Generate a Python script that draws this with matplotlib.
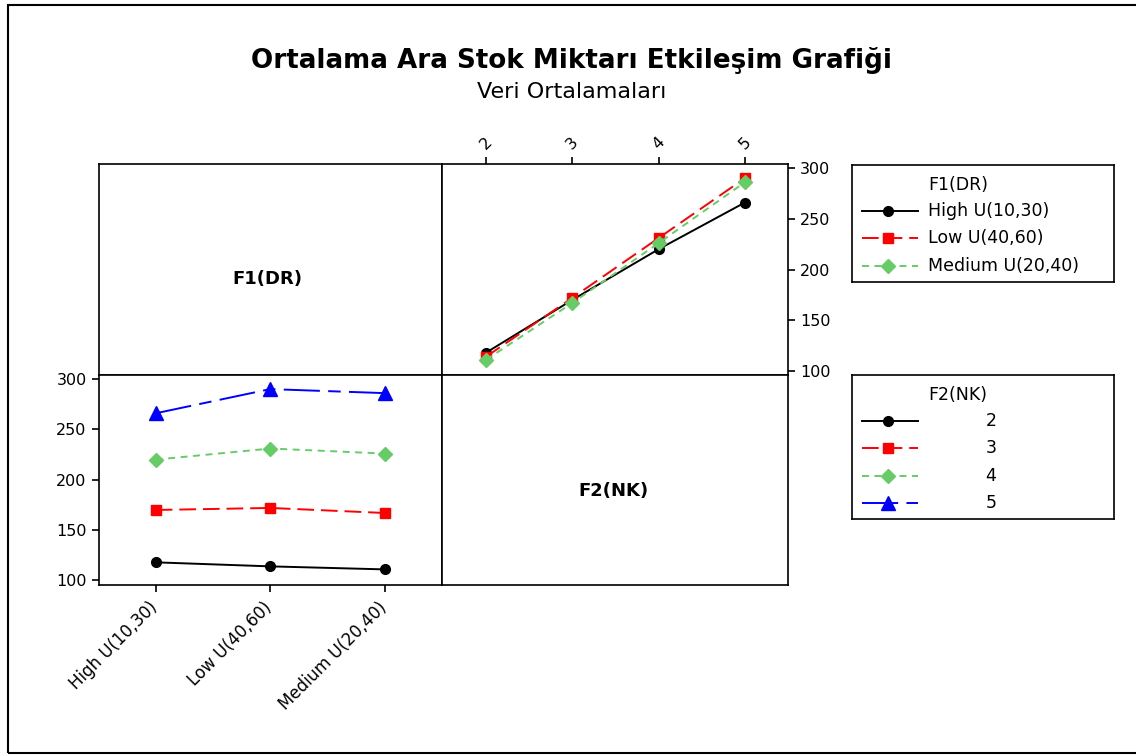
import matplotlib
matplotlib.use("Agg")
import matplotlib.pyplot as plt
from matplotlib.patches import Rectangle
from matplotlib.lines import Line2D
from matplotlib.transforms import ScaledTranslation

plt.rcParams['font.family'] = ['DejaVu Sans']
plt.rcParams['lines.scale_dashes'] = False

# Data
nk_levels = [2, 3, 4, 5]
dr_levels = ['High U(10,30)', 'Low U(40,60)', 'Medium U(20,40)']
high_means = [118, 170, 220, 266]
low_means = [114, 172, 231, 290]
medium_means = [111, 167, 226, 286]
y_ticks = [100, 150, 200, 250, 300]

W, H = 1136, 756
fig = plt.figure(figsize=(W / 100, H / 100), dpi=100)

# outer frame
fig.patches.append(Rectangle((8 / W, 3 / H), 1.2, 1 - 8 / H, transform=fig.transFigure,
                             fill=False, edgecolor='black', linewidth=1.5))

fig.text(0.5035, 1 - 60 / H, 'Ortalama Ara Stok Miktarı Etkileşim Grafiği',
         ha='center', va='center', fontsize=18.8, fontweight='bold')
fig.text(0.5035, 1 - 92 / H, 'Veri Ortalamaları', ha='center', va='center', fontsize=16)

x0, xm, x1 = 98.5 / W, 442 / W, 788 / W
yt, ym, yb = 1 - 164 / H, 1 - 375 / H, 1 - 584.5 / H

ax_tl = fig.add_axes([x0, ym, xm - x0, yt - ym])
ax_tr = fig.add_axes([xm, ym, x1 - xm, yt - ym])
ax_bl = fig.add_axes([x0, yb, xm - x0, ym - yb])
ax_br = fig.add_axes([xm, yb, x1 - xm, ym - yb])

for a in (ax_tl, ax_tr, ax_bl, ax_br):
    for s in a.spines.values():
        s.set_linewidth(1.2)
    a.tick_params(length=5, width=1.2, labelsize=11.5, direction='out')

for a in (ax_tl, ax_br):
    a.set_xticks([])
    a.set_yticks([])
ax_tl.text(0.4905, 0.455, 'F1(DR)', transform=ax_tl.transAxes, ha='center', va='center',
           fontsize=13, fontweight='bold')
ax_br.text(0.4957, 0.447, 'F2(NK)', transform=ax_br.transAxes, ha='center', va='center',
           fontsize=13, fontweight='bold')

green = '#66CC66'
dr_styles = [
    dict(color='black', marker='o', markersize=7, linestyle='-'),
    dict(color='red', marker='s', markersize=7.5, linestyle=(0, (12, 5))),
    dict(color=green, marker='D', markersize=7.5, linestyle=(0, (5, 4))),
]
nk_styles = dr_styles + [
    dict(color='blue', marker='^', markersize=9.5, linestyle=(0, (26, 6, 9, 6))),
]

# top right: mean vs NK, one line per DR level
for vals, st in zip([high_means, low_means, medium_means], dr_styles):
    ax_tr.plot(nk_levels, vals, linewidth=1.4, **st)
ax_tr.set_xlim(1.49, 5.5)
ax_tr.set_ylim(96, 304)
ax_tr.set_xticks(nk_levels)
ax_tr.set_yticks(y_ticks)
ax_tr.xaxis.tick_top()
ax_tr.yaxis.tick_right()
for lab in ax_tr.get_xticklabels():
    lab.set_rotation(45)
    lab.set_ha('center')

# bottom left: mean vs DR, one line per NK level
xs = list(range(len(dr_levels)))
for i, st in enumerate(nk_styles):
    vals = [high_means[i], low_means[i], medium_means[i]]
    ax_bl.plot(xs, vals, linewidth=1.4, **st)
ax_bl.set_xlim(-0.5, 2.5)
ax_bl.set_ylim(96, 304)
ax_bl.set_yticks(y_ticks)
ax_bl.set_xticks(xs)
ax_bl.set_xticklabels(dr_levels, rotation=45, ha='right', rotation_mode='anchor', fontsize=12)
shift = ScaledTranslation(-7 / 100, -2 / 100, fig.dpi_scale_trans)
for lab in ax_bl.get_xticklabels():
    lab.set_transform(lab.get_transform() + shift)


def draw_legend(rect, title, labels, styles, label_x, h_px):
    lg = fig.add_axes(rect)
    lg.set_xlim(0, 262)
    lg.set_ylim(h_px, 0)
    lg.set_xticks([])
    lg.set_yticks([])
    for s in lg.spines.values():
        s.set_linewidth(1.2)
    lg.text(77, 20, title, ha='left', va='center', fontsize=12.5)
    for k, (lab, st) in enumerate(zip(labels, styles)):
        y = 46 + 27.3 * k
        lg.add_line(Line2D([10, 66], [y, y], linewidth=1.4, color=st['color'],
                           linestyle=st['linestyle']))
        lg.add_line(Line2D([36], [y], color=st['color'], marker=st['marker'],
                           markersize=st['markersize'], linestyle='none'))
        lg.text(label_x, y, lab, ha='left', va='center', fontsize=12.5)


draw_legend([851.5 / W, 1 - 281.5 / H, 262 / W, 116.5 / H], 'F1(DR)', dr_levels,
            dr_styles, 77, 116.5)
draw_legend([851.5 / W, 1 - 519 / H, 262 / W, 144 / H], 'F2(NK)',
            [str(n) for n in nk_levels], nk_styles, 134, 144)

fig.savefig('out.png', dpi=100)
